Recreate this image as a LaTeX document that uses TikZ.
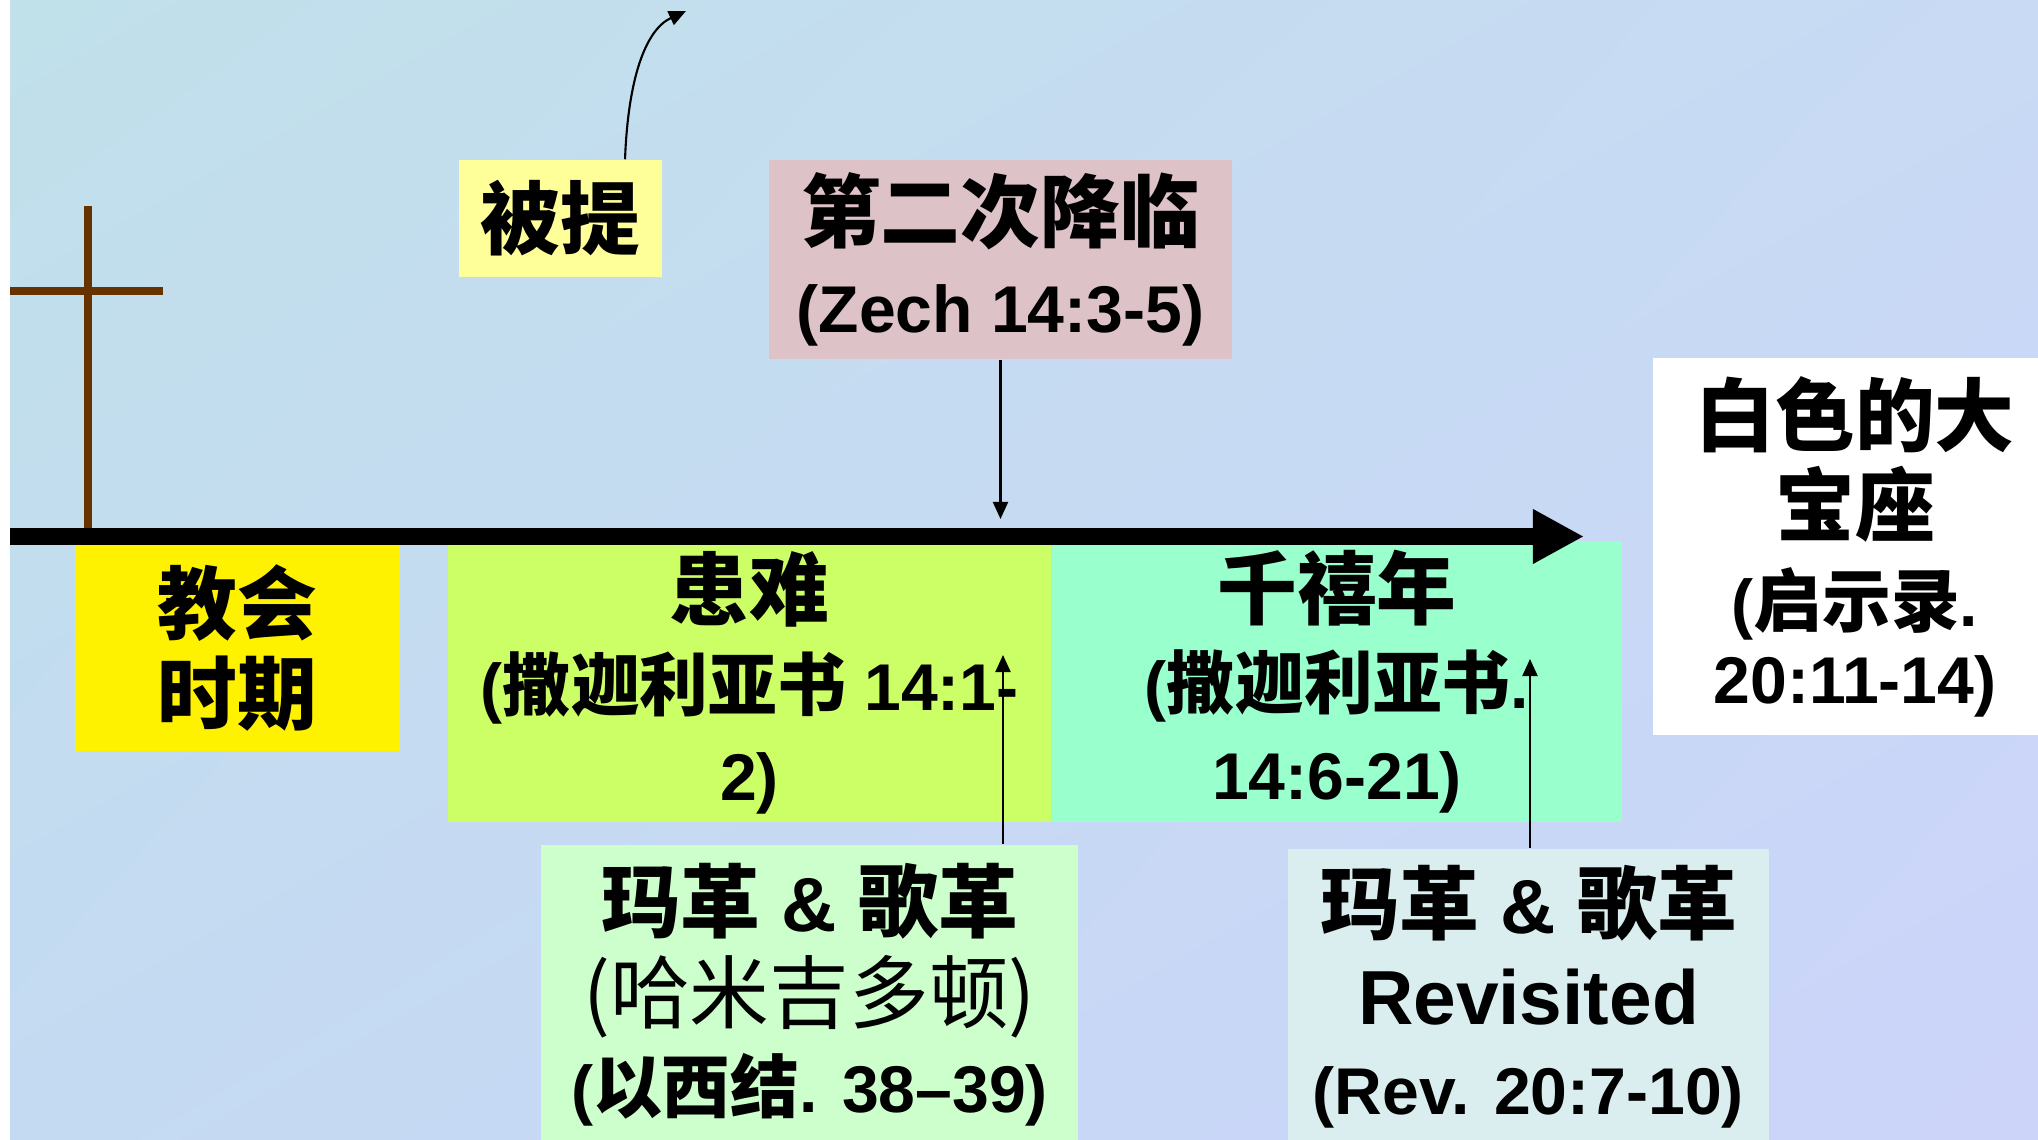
\documentclass[tikz,border=0pt]{standalone}
\usepackage{fontspec}
\setmainfont{Liberation Sans}
\newfontfamily\cjk{Noto Sans CJK SC}[Scale=1.04]
\newcommand\ttl{\fontsize{21.8}{25.8}\selectfont}
\usetikzlibrary{arrows.meta,shadings}
\definecolor{bgtl}{RGB}{192,224,234}
\definecolor{bgtr}{RGB}{200,218,244}
\definecolor{bgbl}{RGB}{196,218,242}
\definecolor{bgbr}{RGB}{204,212,250}
\definecolor{crossbrown}{RGB}{102,51,0}
\definecolor{rapturefill}{RGB}{255,255,153}
\definecolor{secondfill}{RGB}{221,194,199}
\definecolor{tribfill}{RGB}{204,255,102}
\definecolor{milfill}{RGB}{153,255,204}
\definecolor{gogfill}{RGB}{204,255,204}
\definecolor{gogrevfill}{RGB}{218,238,240}

\begin{document}
\begin{tikzpicture}[x=0.01cm,y=-0.01cm,
    evbox/.style={inner sep=0pt,align=center,font=\bfseries\fontsize{18.8}{25.8}\selectfont},
    thinarrow/.style={line width=0.6pt,-{Triangle[length=0.17cm,width=0.15cm]}}]
  \useasboundingbox (0,0) rectangle (2038,1140);
  \clip (0,0) rectangle (2038,1140);
  \fill[white] (0,0) rectangle (2038,1140);
  \shade[upper left=bgtl,upper right=bgtr,lower left=bgbl,lower right=bgbr] (10,0) rectangle (2038,1140);

  \draw[crossbrown,line width=0.07cm] (88,206)--(88,528);
  \draw[crossbrown,line width=0.08cm] (10,291)--(163,291);

  \node[evbox,fill=rapturefill,minimum width=2.03cm,minimum height=1.17cm] (rapture) at (560.5,218.5) {{\ttl\cjk 被提}};
  \node[evbox,fill=secondfill,minimum width=4.63cm,minimum height=1.99cm] (second) at (1000.5,259.5) {{\ttl\cjk 第二次降临}\\(Zech 14:3-5)};
  \node[evbox,fill=yellow,minimum width=3.25cm,minimum height=2.06cm] (church) at (237.5,648) {{\ttl\cjk 教会}\\{\ttl\cjk 时期}};
  \node[evbox,fill=tribfill,minimum width=6.03cm,minimum height=2.78cm] (trib) at (749.5,683) {{\ttl\cjk 患难}\\({\cjk 撒迦利亚书} 14:1-\\2)};
  \node[evbox,fill=milfill,minimum width=5.70cm,minimum height=2.81cm] (mil) at (1337,681.5) {{\ttl\cjk 千禧年}\\({\cjk 撒迦利亚书}.\\14:6-21)};
  \node[evbox,fill=white,minimum width=4.04cm,minimum height=3.77cm] (throne) at (1855,546.5) {{\ttl\cjk 白色的大}\\{\ttl\cjk 宝座}\\({\cjk 启示录}.\\[-4pt]20:11-14)};
  \node[evbox,fill=gogfill,minimum width=5.37cm,minimum height=3.00cm] (gog) at (809.5,995) {{\ttl{\cjk 玛革} \& {\cjk 歌革}}\\{\ttl\cjk\mdseries (哈米吉多顿)}\\({\cjk 以西结}. 38--39)};
  \node[evbox,fill=gogrevfill,minimum width=4.81cm,minimum height=2.96cm] (gogrev) at (1528.5,997) {{\ttl{\cjk 玛革} \& {\cjk 歌革}}\\{\ttl Revisited}\\(Rev. 20:7-10)};

  \coordinate (tlstart) at (10,536.5);
  \coordinate (tlend) at (1584,536.5);
  \draw[line width=0.17cm,-{Triangle[length=0.51cm,width=0.51cm]}] (tlstart)--(tlend);

  \coordinate (raptip) at (686,11);
  \coordinate (secondtip) at (1000.5,519);
  \coordinate (tribtip) at (1003,655);
  \coordinate (miltip) at (1530,659);
  \draw[thinarrow] ([xshift=0.645cm]rapture.north) .. controls (628,80) and (645,30) .. (raptip);
  \draw[thinarrow] (second.south)--(secondtip);
  \draw[thinarrow] (tribtip |- gog.north)--(tribtip);
  \draw[thinarrow] (miltip |- gogrev.north)--(miltip);
\end{tikzpicture}
\end{document}
